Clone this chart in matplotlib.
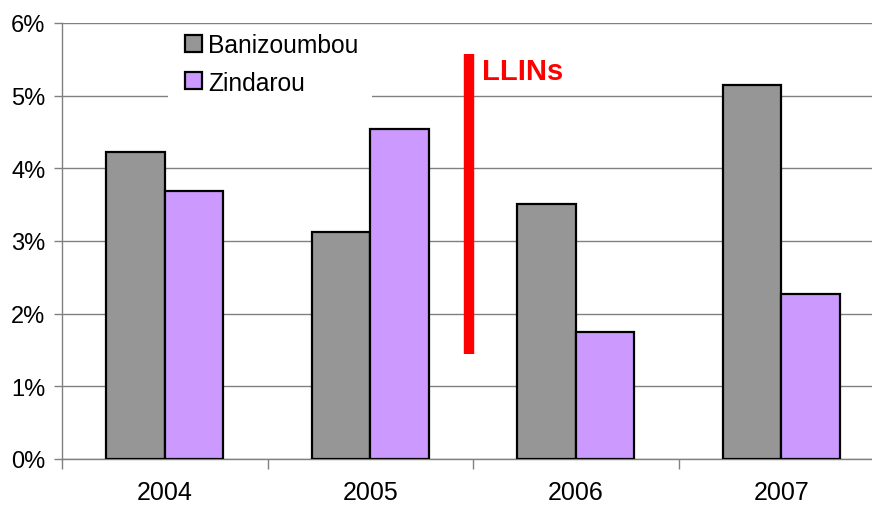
import matplotlib
matplotlib.use("Agg")
import matplotlib.pyplot as plt
from matplotlib.patches import Rectangle
import numpy as np

plt.rcParams["font.family"] = ["Liberation Sans", "DejaVu Sans"]

years = ["2004", "2005", "2006", "2007"]
banizoumbou = [4.22, 3.12, 3.51, 5.14]
zindarou = [3.69, 4.54, 1.75, 2.27]
yticks = [0, 1, 2, 3, 4, 5, 6]

# LLINs marker: between 2005 and 2006 (x in category units), y in percent
llins_x = 1.48
llins_ymin = 1.44
llins_ymax = 5.58

grey = "#969696"
purple = "#CC99FF"
axis_col = "#808080"

fig = plt.figure(figsize=(8.72, 5.06), dpi=100)
ax = fig.add_axes([62 / 872, 46 / 506, 822 / 872, 436 / 506])

x = np.arange(len(years))
w = 0.284
ax.bar(x - w / 2, banizoumbou, w, color=grey, edgecolor="black",
       linewidth=1.6, label="Banizoumbou", zorder=3)
ax.bar(x + w / 2, zindarou, w, color=purple, edgecolor="black",
       linewidth=1.6, label="Zindarou", zorder=3)

ax.set_xlim(-0.5, len(years) - 0.5)
ax.set_ylim(0, 6)

ax.set_yticks(yticks)
ax.set_yticklabels([f"{v}%" for v in yticks])
ax.yaxis.grid(True, color=axis_col, linewidth=1)
ax.set_axisbelow(True)

ax.set_xticks(x)
ax.set_xticklabels(years)
ax.set_xticks(np.arange(-0.5, len(years)), minor=True)
ax.tick_params(axis="x", which="major", length=0, pad=15, labelsize=18)
ax.tick_params(axis="x", which="minor", length=7, color=axis_col, width=1)
ax.tick_params(axis="y", length=6, color=axis_col, width=1, pad=6, labelsize=17)

for side in ("top", "right"):
    ax.spines[side].set_visible(False)
for side in ("left", "bottom"):
    ax.spines[side].set_color(axis_col)
    ax.spines[side].set_linewidth(1)

ax.vlines(llins_x, llins_ymin, llins_ymax, color="red", linewidth=7.5, zorder=4)
ax.text(llins_x + 0.064, 5.34, "LLINs", color="red", fontsize=21,
        fontweight="bold", va="center", ha="left", zorder=5)

# white box behind the legend, hiding the gridlines there
ax.add_patch(Rectangle((0.129, 0.816), 0.248, 0.179, transform=ax.transAxes,
                       facecolor="white", edgecolor="none", zorder=2))

leg = ax.legend(loc="upper left", bbox_to_anchor=(185 / 872, 1 - 34 / 506),
                bbox_transform=fig.transFigure, fontsize=17.7, frameon=False,
                handlelength=0.69, handleheight=0.69, handletextpad=0.24,
                borderpad=0, labelspacing=0.55, borderaxespad=0)
leg.set_zorder(6)
for h in leg.legend_handles:
    h.set_linewidth(1.6)

fig.savefig("out.png", dpi=100)
